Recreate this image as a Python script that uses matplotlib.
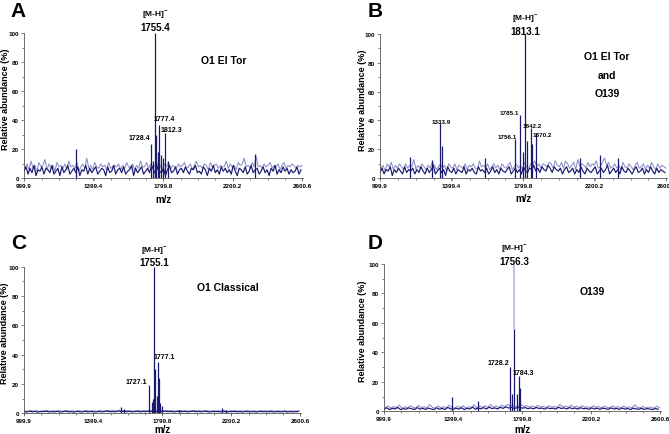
import numpy as np
import matplotlib
matplotlib.use("Agg")
import matplotlib.pyplot as plt
from matplotlib.ticker import MultipleLocator

plt.rcParams['font.family'] = ['Liberation Sans', 'DejaVu Sans']
plt.rcParams['mathtext.fontset'] = 'custom'
plt.rcParams['mathtext.rm'] = 'Liberation Sans:bold'
plt.rcParams['mathtext.bf'] = 'Liberation Sans:bold'
plt.rcParams['mathtext.default'] = 'bf'

# axis ticks shared by the four spectra
x_ticks = [999.9, 1399.4, 1799.8, 2200.2, 2600.6]
x_ticklabels = ['999.9', '1399.4', '1799.8', '2200.2', '2600.6']
y_ticks = [0, 20, 40, 60, 80, 100]

# panel A - O1 El Tor
a_dark = [5, 8, 3, 7, 4, 9, 2, 6, 5, 8, 3, 7, 6, 4, 9, 3, 5, 7, 2, 8,
          4, 6, 9, 3, 5, 7, 4, 8, 2, 6, 5, 9, 3, 7, 4, 6, 8, 3, 5, 7,
          6, 2, 8, 4, 5, 9, 3, 6, 7, 4, 8, 3, 5, 6, 9, 2, 7, 4, 6, 8,
          3, 5, 7, 4, 9, 6, 3, 8, 5, 4, 7, 2, 6, 9, 4, 5, 8, 3, 6, 7,
          4, 8, 5, 3, 7, 6, 9, 4, 5, 3, 8, 6, 2, 7, 5, 9, 4, 6, 3, 8,
          5, 7, 4, 6, 3, 9, 5, 2, 7, 6, 4, 8, 3, 5, 9, 4, 6, 7, 3, 5,
          8, 4, 6, 2, 7, 5, 9, 3, 6, 4, 8, 5, 7, 3, 6, 4, 5, 8, 3, 6]
a_light = [7, 10, 6, 12, 7, 9, 5, 11, 8, 9, 13, 6, 10, 7, 9, 5, 11, 8, 9, 7,
           10, 6, 12, 8, 9, 7, 11, 5, 8, 10, 7, 14, 7, 9, 6, 11, 8, 7, 10, 8,
           9, 6, 11, 7, 8, 9, 8, 10, 6, 9, 7, 11, 8, 7, 10, 6, 9, 7, 12, 8,
           8, 11, 7, 10, 8, 9, 6, 12, 8, 7, 10, 8, 11, 6, 9, 8, 7, 10, 8, 9,
           11, 7, 8, 10, 6, 9, 12, 8, 9, 7, 10, 9, 6, 11, 8, 9, 10, 7, 9, 8,
           8, 12, 7, 10, 8, 9, 6, 11, 9, 10, 14, 8, 9, 7, 11, 8, 15, 8, 9, 7,
           10, 8, 9, 11, 7, 9, 8, 10, 6, 9, 11, 7, 9, 8, 10, 9, 7, 9, 8, 9]
a_peak_mz = [1300, 1728.4, 1742, 1755.4, 1762, 1770, 1777.4, 1786, 1800, 1812.3, 1826, 2330]
a_peak_ab = [20, 24, 12, 100, 30, 18, 37, 16, 14, 31, 12, 17]

# panel B - O1 El Tor and O139
b_dark = [4, 7, 3, 6, 5, 8, 2, 6, 4, 7, 5, 3, 8, 4, 6, 5, 7, 3, 6, 4,
          8, 5, 3, 7, 4, 6, 9, 3, 5, 7, 4, 6, 2, 8, 5, 4, 7, 3, 6, 5,
          4, 8, 3, 6, 5, 7, 4, 3, 8, 5, 6, 4, 7, 3, 5, 8, 4, 6, 3, 7,
          5, 4, 6, 8, 3, 5, 7, 4, 6, 3, 8, 5, 4, 7, 6, 9, 5, 7, 4, 8,
          6, 5, 9, 7, 4, 8, 6, 5, 7, 3, 6, 8, 4, 5, 7, 3, 6, 4, 8, 5,
          3, 7, 5, 4, 6, 8, 3, 5, 7, 4, 6, 9, 3, 5, 7, 4, 6, 3, 8, 5,
          4, 7, 5, 3, 6, 8, 4, 5, 7, 3, 6, 4, 8, 5, 3, 7, 4, 6, 5, 4]
b_light = [7, 9, 5, 10, 8, 11, 6, 9, 7, 10, 8, 6, 10, 7, 9, 8, 13, 6, 9, 7,
           10, 8, 6, 9, 7, 11, 9, 6, 8, 10, 7, 9, 5, 10, 8, 7, 10, 6, 9, 8,
           7, 10, 6, 9, 8, 10, 7, 6, 12, 8, 9, 7, 10, 6, 8, 10, 7, 9, 6, 10,
           8, 7, 9, 11, 6, 8, 10, 7, 9, 6, 11, 8, 7, 10, 9, 12, 8, 10, 7, 10,
           9, 8, 11, 10, 7, 12, 9, 8, 11, 7, 12, 10, 7, 9, 11, 6, 13, 8, 10, 9,
           7, 11, 8, 10, 9, 12, 7, 8, 11, 14, 9, 11, 7, 8, 10, 7, 9, 6, 11, 8,
           7, 10, 8, 6, 9, 11, 7, 8, 10, 6, 9, 7, 11, 8, 6, 10, 7, 9, 8, 7]
b_peak_mz = [1170, 1290, 1333.9, 1345, 1585, 1756.1, 1785.1, 1799, 1813.1, 1825, 1842.2, 1850, 1870.2, 2120, 2230, 2330]
b_peak_ab = [15, 13, 38, 22, 14, 27, 44, 18, 100, 26, 35, 24, 31, 14, 16, 14]

# panel C - O1 Classical
c_dark = [1.2, 0.9, 1.4, 1.0, 1.3, 0.8, 1.2, 1.1, 1.4, 0.9, 1.2, 1.0, 1.3, 0.9, 1.1, 1.4, 1.0, 1.2, 0.8, 1.3,
          1.1, 0.9, 1.4, 1.0, 1.2, 1.1, 0.9, 1.3, 1.0, 1.2, 1.5, 1.1, 1.3, 1.0, 1.6, 1.2, 1.4, 1.1, 1.3, 1.0,
          1.2, 1.4, 1.0, 1.3, 1.1, 1.5, 1.2, 1.7, 1.3, 1.5, 1.2, 1.4, 1.1, 1.3, 1.0, 1.2, 1.4, 1.1, 1.3, 1.0,
          1.2, 1.5, 1.1, 1.3, 1.0, 1.4, 1.2, 0.9, 1.3, 1.1, 1.2, 1.0, 1.4, 0.9, 1.2, 1.1, 1.3, 1.0, 1.2, 0.9,
          1.3, 1.1, 1.0, 1.2, 0.9, 1.3, 1.1, 1.2, 1.0, 1.3, 0.9, 1.2, 1.1, 1.0, 1.3, 0.9, 1.2, 1.0, 1.1, 1.2]
c_light = [1.7, 1.4, 1.9, 1.5, 1.8, 1.3, 1.7, 1.6, 1.9, 1.4, 1.7, 1.5, 1.8, 1.4, 1.6, 1.9, 1.5, 1.7, 1.3, 1.8,
           1.6, 1.4, 1.9, 1.5, 1.7, 1.6, 1.4, 1.8, 1.5, 1.7, 2.0, 1.6, 1.8, 1.5, 2.1, 1.7, 1.9, 1.6, 1.8, 1.5,
           1.7, 1.9, 1.5, 1.8, 1.6, 2.0, 1.7, 2.2, 1.8, 2.0, 1.7, 1.9, 1.6, 1.8, 1.5, 1.7, 1.9, 1.6, 1.8, 1.5,
           1.7, 2.0, 1.6, 1.8, 1.5, 1.9, 1.7, 1.4, 1.8, 1.6, 1.7, 1.5, 1.9, 1.4, 1.7, 1.6, 1.8, 1.5, 1.7, 1.4,
           1.8, 1.6, 1.5, 1.7, 1.4, 1.8, 1.6, 1.7, 1.5, 1.8, 1.4, 1.7, 1.6, 1.5, 1.8, 1.4, 1.7, 1.5, 1.6, 1.7]
c_peak_mz = [1565, 1580, 1727.1, 1740, 1748, 1755.1, 1762, 1770, 1777.1, 1782, 1790, 1800, 1900, 2150, 2170]
c_peak_ab = [4, 3, 19, 8, 10, 100, 30, 12, 35, 24, 7, 5, 2.5, 3.5, 2.5]

# panel D - O139
d_dark = [1.5, 2.4, 1.2, 2.0, 1.6, 2.6, 1.1, 1.9, 1.4, 2.3, 1.7, 1.2, 2.5, 1.5, 2.0, 1.3, 2.2, 1.6, 1.1, 2.4,
          1.4, 2.0, 1.2, 2.6, 1.7, 1.3, 2.1, 1.5, 2.4, 1.2, 2.0, 1.6, 2.8, 1.4, 2.2, 1.7, 2.5, 1.5, 2.9, 1.8,
          2.3, 1.6, 2.7, 2.0, 3.0, 2.2, 2.6, 1.9, 2.4, 2.8, 2.1, 2.5, 1.8, 2.3, 1.6, 2.6, 1.9, 2.2, 1.5, 2.4,
          1.8, 2.1, 1.5, 2.7, 1.9, 2.3, 1.6, 2.5, 1.8, 2.2, 1.5, 2.4, 1.7, 2.0, 1.4, 2.3, 1.6, 2.1, 1.3, 2.2,
          1.7, 1.4, 2.3, 1.6, 2.0, 1.3, 2.2, 1.5, 1.9, 1.2, 2.1, 1.6, 1.4, 2.0, 1.3, 1.8, 1.5, 1.2, 1.9, 1.4]
d_light = [2.5, 3.6, 2.2, 3.1, 2.6, 4.2, 2.1, 3.0, 2.4, 3.8, 2.7, 2.2, 3.9, 2.5, 3.1, 2.3, 4.5, 2.6, 2.1, 3.6,
           2.4, 3.2, 2.2, 4.1, 2.7, 2.3, 3.4, 2.5, 3.8, 2.2, 3.1, 2.6, 4.4, 2.4, 3.5, 2.7, 3.9, 2.5, 4.6, 2.8,
           3.6, 2.6, 4.3, 3.0, 4.8, 3.4, 4.0, 2.9, 3.8, 4.4, 3.2, 3.9, 2.8, 3.6, 2.6, 4.1, 2.9, 3.4, 2.5, 3.8,
           2.8, 3.3, 2.5, 4.6, 2.9, 3.6, 2.6, 4.2, 2.8, 3.4, 2.5, 3.8, 2.7, 3.1, 2.4, 3.7, 2.6, 3.3, 2.3, 3.5,
           2.7, 2.4, 3.6, 2.6, 3.2, 2.3, 3.5, 2.5, 3.0, 2.2, 4.4, 2.6, 2.4, 3.2, 2.3, 2.9, 2.5, 2.2, 3.4, 2.4]
d_peak_mz = [1394, 1545, 1728.2, 1740, 1756.3, 1770, 1784.3, 1790]
d_peak_ab = [10, 7, 30, 12, 56, 12, 24, 16]
d_light_peak_mz = [1756.3]
d_light_peak_ab = [100]

DARK = '#191970'
LIGHT = '#8c8cc8'
X_END = 2606

fig = plt.figure(figsize=(6.69, 4.35), dpi=100)


def spectrum(rect, dark, light, peak_mz, peak_ab, ylab_x, xlab_y):
    ax = fig.add_axes(rect)
    step_d = (X_END - 999.9) / len(dark)
    step_l = (X_END - 999.9) / len(light)
    # light trace sits half a step between the dark one
    grid_d = 999.9 + step_d * np.arange(len(dark))
    grid_l = 999.9 + step_l * (np.arange(len(light)) + 0.5)
    ax.plot(grid_l, light, color=LIGHT, lw=0.75)
    ax.plot(grid_d, dark, color=DARK, lw=0.85)
    ax.vlines(peak_mz, 0, peak_ab, color=DARK, lw=0.9)
    ax.set_xlim(999.9, X_END)
    ax.set_ylim(0, 100)
    ax.set_xticks(x_ticks)
    ax.set_xticklabels(x_ticklabels)
    ax.set_yticks(y_ticks)
    ax.xaxis.set_minor_locator(MultipleLocator(100.1))
    ax.yaxis.set_minor_locator(MultipleLocator(10))
    for s in ['top', 'right']:
        ax.spines[s].set_visible(False)
    for s in ['left', 'bottom']:
        ax.spines[s].set_linewidth(0.6)
        ax.spines[s].set_color('#555555')
    ax.tick_params(which='both', labelsize=4.5, length=2, width=0.5,
                   color='#555555', pad=1.5)
    ax.tick_params(which='minor', length=1.2)
    for t in ax.get_xticklabels() + ax.get_yticklabels():
        t.set_fontweight('bold')
    ax.set_ylabel('Relative abundance (%)', fontsize=6.5, fontweight='bold')
    ax.yaxis.set_label_coords(ylab_x, 0.55)
    ax.set_xlabel('m/z', fontsize=7, fontweight='bold')
    ax.xaxis.set_label_coords(0.5, xlab_y)
    return ax


def mh_label(ax, mz, text, y1, y2):
    ax.text(mz, y1, r'[M-H]$^{-}$', ha='center', va='center', fontsize=6,
            fontweight='bold', clip_on=False)
    ax.text(mz, y2, text, ha='center', va='center', fontsize=7,
            fontweight='bold', clip_on=False)


# A
ax = spectrum([0.0359, 0.5874, 0.4170, 0.3338], a_dark, a_light, a_peak_mz, a_peak_ab, -0.052, -0.105)
mh_label(ax, 1755.4, '1755.4', 112.5, 104)
ax.text(1726, 28.5, '1728.4', ha='right', va='center', fontsize=5, fontweight='bold')
ax.text(1745, 41, '1777.4', ha='left', va='center', fontsize=5, fontweight='bold')
ax.text(1786, 34, '1812.3', ha='left', va='center', fontsize=5, fontweight='bold')
ax.text(2150, 81.6, 'O1 El Tor', ha='center', va='center', fontsize=7.5, fontweight='bold')

# B
ax = spectrum([0.5680, 0.5878, 0.4290, 0.3324], b_dark, b_light, b_peak_mz, b_peak_ab, -0.045, -0.10)
mh_label(ax, 1813.1, '1813.1', 110, 102)
ax.text(1341, 39.6, '1333.9', ha='center', va='center', fontsize=4.5, fontweight='bold')
ax.text(1780, 45.8, '1785.1', ha='right', va='center', fontsize=4.5, fontweight='bold')
ax.text(1768, 29, '1756.1', ha='right', va='center', fontsize=4.5, fontweight='bold')
ax.text(1800, 36.8, '1842.2', ha='left', va='center', fontsize=4.5, fontweight='bold')
ax.text(1856, 30.6, '1870.2', ha='left', va='center', fontsize=4.5, fontweight='bold')
ax.text(2270, 84.6, 'O1 El Tor', ha='center', va='center', fontsize=7.5, fontweight='bold')
ax.text(2270, 71.4, 'and', ha='center', va='center', fontsize=7.5, fontweight='bold')
ax.text(2270, 59, 'O139', ha='center', va='center', fontsize=7.5, fontweight='bold')

# C
ax = spectrum([0.0359, 0.0476, 0.4140, 0.3370], c_dark, c_light, c_peak_mz, c_peak_ab, -0.053, -0.072)
mh_label(ax, 1755.1, '1755.1', 111, 103.5)
ax.text(1713, 22, '1727.1', ha='right', va='center', fontsize=5, fontweight='bold')
ax.text(1754, 39, '1777.1', ha='left', va='center', fontsize=5, fontweight='bold')
ax.text(2183, 86.2, 'O1 Classical', ha='center', va='center', fontsize=7.5, fontweight='bold')

# D
ax = spectrum([0.5740, 0.0522, 0.4140, 0.3386], d_dark, d_light, d_peak_mz, d_peak_ab, -0.060, -0.085)
ax.vlines(d_light_peak_mz, 56, d_light_peak_ab, color='#b4bad8', lw=1.2)
mh_label(ax, 1756.3, '1756.3', 110, 102)
ax.text(1725, 32.8, '1728.2', ha='right', va='center', fontsize=5, fontweight='bold')
ax.text(1748, 26.6, '1784.3', ha='left', va='center', fontsize=5, fontweight='bold')
ax.text(2206, 81.6, 'O139', ha='center', va='center', fontsize=7.5, fontweight='bold')

# panel letters
for letter, x, y in [('A', 0.016, 0.995), ('B', 0.549, 0.995), ('C', 0.016, 0.463), ('D', 0.549, 0.463)]:
    fig.text(x, y, letter, ha='left', va='top', fontsize=15, fontweight='bold')

fig.savefig('out.png', dpi=100)
